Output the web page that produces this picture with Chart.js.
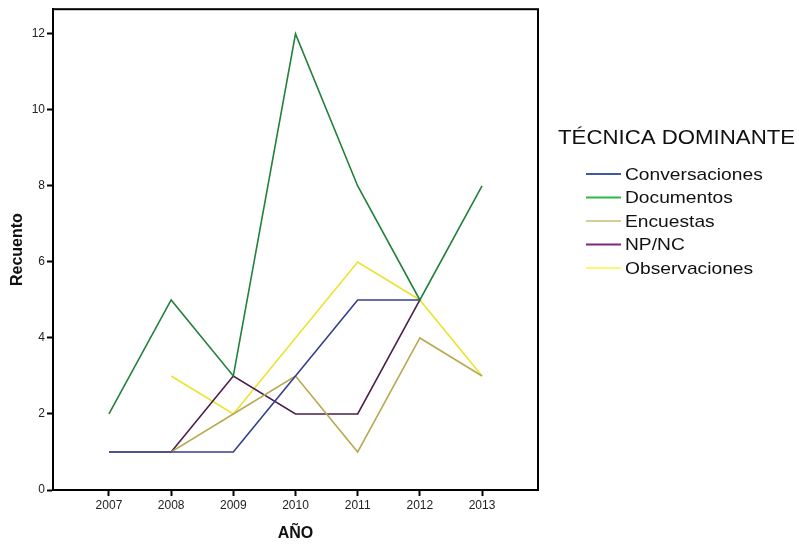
<!DOCTYPE html>
<html>
<head>
<meta charset="utf-8">
<script src="https://cdn.jsdelivr.net/npm/chart.js@4/dist/chart.umd.min.js"></script>
<style>
  html, body { margin: 0; padding: 0; background: #fff; }
  #wrap { width: 799px; height: 548px; }
</style>
</head>
<body>
<div id="wrap"><canvas id="graph"></canvas></div>
<script>
// datos
const years = [2007, 2008, 2009, 2010, 2011, 2012, 2013];
const conversaciones = [1, 1, 1, 3, 5, 5, null];
const documentos = [2, 5, 3, 12, 8, 5, 8];
const encuestas = [1, 1, 2, 3, 1, 4, 3];
const npnc = [1, 1, 3, 2, 2, 5, null];
const observaciones = [null, 3, 2, 4, 6, 5, 3];
const yTicks = [0, 2, 4, 6, 8, 10, 12];

const seriesNames = ['Conversaciones', 'Documentos', 'Encuestas', 'NP/NC', 'Observaciones'];
const seriesValues = [conversaciones, documentos, encuestas, npnc, observaciones];
const lineColors = ['#343f90', '#22813a', '#b9aa52', '#4c1f4c', '#ebe332'];
const legendColors = ['#3e58ac', '#2eb848', '#d3ce97', '#7c287d', '#fbf873'];

function toPoints(values) {
    return years.map((yr, i) => ({ x: yr, y: values[i] }));
}

const legendPlugin = {
    id: 'spssLegend',
    afterDraw(chart) {
        const ctx = chart.ctx;
        const area = chart.chartArea;
        ctx.save();
        // marco completo
        ctx.strokeStyle = '#000';
        ctx.lineWidth = 2;
        ctx.strokeRect(area.left, area.top, area.right - area.left, area.bottom - area.top);

        ctx.fillStyle = '#111';
        ctx.textBaseline = 'middle';

        // titulo de la leyenda (texto algo ensanchado como en el original)
        ctx.save();
        ctx.translate(558, 139);
        ctx.scale(1.14, 1);
        ctx.font = '19.5px "Liberation Sans", Arial, sans-serif';
        ctx.fillText('TÉCNICA DOMINANTE', 0, 0);
        ctx.restore();

        seriesNames.forEach((name, i) => {
            const y = 174 + i * 23.5;
            ctx.strokeStyle = legendColors[i];
            ctx.lineWidth = 2;
            ctx.beginPath();
            ctx.moveTo(586, y);
            ctx.lineTo(621, y);
            ctx.stroke();
            ctx.save();
            ctx.translate(625, y + 1);
            ctx.scale(1.13, 1);
            ctx.font = '17px "Liberation Sans", Arial, sans-serif';
            ctx.fillStyle = '#111';
            ctx.fillText(name, 0, 0);
            ctx.restore();
        });
        ctx.restore();
    }
};

const ctx = document.getElementById('graph').getContext('2d');
const myChart = new Chart(ctx, {
    type: 'line',
    data: {
        datasets: seriesNames.map((name, i) => ({
            label: name,
            data: toPoints(seriesValues[i]),
            borderColor: lineColors[i],
            backgroundColor: lineColors[i],
            borderWidth: 1.6,
            pointRadius: 0,
            tension: 0,
            spanGaps: false
        }))
    },
    options: {
        responsive: true,
        maintainAspectRatio: false,
        animation: false,
        layout: {
            padding: { top: 7, right: 261, bottom: 0, left: 0 }
        },
        plugins: {
            legend: { display: false },
            tooltip: { enabled: false }
        },
        scales: {
            x: {
                type: 'linear',
                min: 2006.1,
                max: 2013.9,
                afterBuildTicks: scale => { scale.ticks = years.map(v => ({ value: v })); },
                afterFit: scale => { scale.height = 58; },
                grid: { drawOnChartArea: false, drawTicks: true, tickLength: 6, tickWidth: 2, color: '#000' },
                border: { display: true, color: '#000', width: 2 },
                ticks: {
                    color: '#222',
                    padding: 2,
                    maxRotation: 0,
                    font: { family: '"Liberation Sans", Arial, sans-serif', size: 12 },
                    callback: v => String(v)
                },
                title: {
                    display: true,
                    text: 'AÑO',
                    color: '#111',
                    padding: { top: 2, bottom: 5 },
                    font: { family: '"Liberation Sans", Arial, sans-serif', size: 16, weight: 'bold' }
                }
            },
            y: {
                min: 0,
                max: 12.65,
                afterBuildTicks: scale => { scale.ticks = yTicks.map(v => ({ value: v })); },
                afterFit: scale => { scale.width = 53; },
                grid: { drawOnChartArea: false, drawTicks: true, tickLength: 6, tickWidth: 2, color: '#000' },
                border: { display: true, color: '#000', width: 2 },
                ticks: {
                    color: '#222',
                    padding: 2,
                    font: { family: '"Liberation Sans", Arial, sans-serif', size: 12 }
                },
                title: {
                    display: true,
                    text: 'Recuento',
                    color: '#111',
                    padding: { top: 8, bottom: 8 },
                    font: { family: '"Liberation Sans", Arial, sans-serif', size: 16, weight: 'bold' }
                }
            }
        }
    },
    plugins: [legendPlugin]
});
</script>
</body>
</html>
